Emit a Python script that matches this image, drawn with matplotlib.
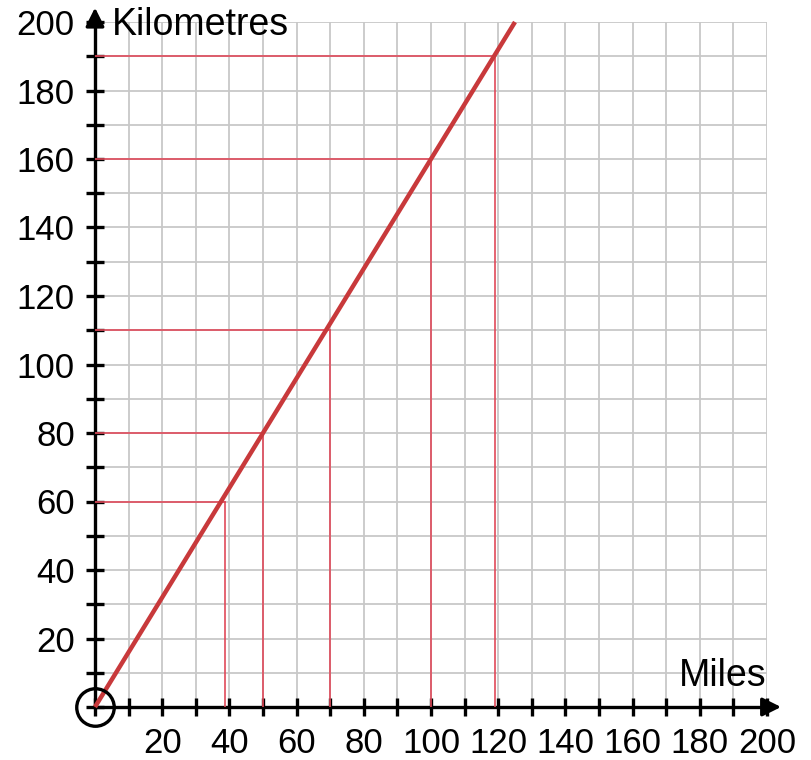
import matplotlib.pyplot as plt
import numpy as np

# conversion line miles -> km
line_miles = [0, 125]
line_km = [0, 200]

# red read-off guides (miles, km)
guide_miles = [38.75, 50, 70, 100, 119]
guide_km = [60, 80, 110, 160, 190]

tick_vals = list(range(0, 201, 10))

plt.rcParams['font.family'] = ['Liberation Sans', 'DejaVu Sans']

fig = plt.figure(figsize=(8.11, 7.6), dpi=100)
ax = fig.add_axes([95 / 811, 53 / 760, 672 / 811, 685 / 760])
ax.set_xlim(0, 200)
ax.set_ylim(0, 200)

# grid
ax.set_xticks(tick_vals)
ax.set_yticks(tick_vals)
ax.grid(True, color='#c8c8c8', lw=1.3)
ax.set_axisbelow(True)

for s in ['top', 'right']:
    ax.spines[s].set_visible(False)
for s in ['left', 'bottom']:
    ax.spines[s].set_linewidth(2.4)
    ax.spines[s].set_color('black')

ax.tick_params(direction='inout', length=13, width=2.4, color='black',
               labelsize=25, pad=8)
labels = ['' if v == 0 or v % 20 else str(v) for v in tick_vals]
ax.set_xticklabels(labels)
ax.set_yticklabels(labels)

# guides
for m, k in zip(guide_miles, guide_km):
    ax.plot([0, m], [k, k], color='#e04a5a', lw=1.2, zorder=3)
    ax.plot([m, m], [0, k], color='#e04a5a', lw=1.2, zorder=3)

ax.plot(line_miles, line_km, color='#c8393b', lw=3.2, zorder=4,
        solid_capstyle='butt', clip_on=False)

# arrows
ax.annotate('', xy=(205, 0), xytext=(199, 0),
            arrowprops=dict(arrowstyle='-|>', color='black', lw=2.4,
                            mutation_scale=28), annotation_clip=False)
ax.annotate('', xy=(0, 205), xytext=(0, 199),
            arrowprops=dict(arrowstyle='-|>', color='black', lw=2.4,
                            mutation_scale=28), annotation_clip=False)

# origin circle
ax.plot([0], [0], 'o', ms=27, mfc='none', mec='black', mew=2.4,
        clip_on=False, zorder=5)

ax.text(5, 199, 'Kilometres', fontsize=27, va='center', ha='left', zorder=6)
ax.text(200, 9, 'Miles', fontsize=27, va='center', ha='right', zorder=6)

fig.savefig('out.png', dpi=100)
